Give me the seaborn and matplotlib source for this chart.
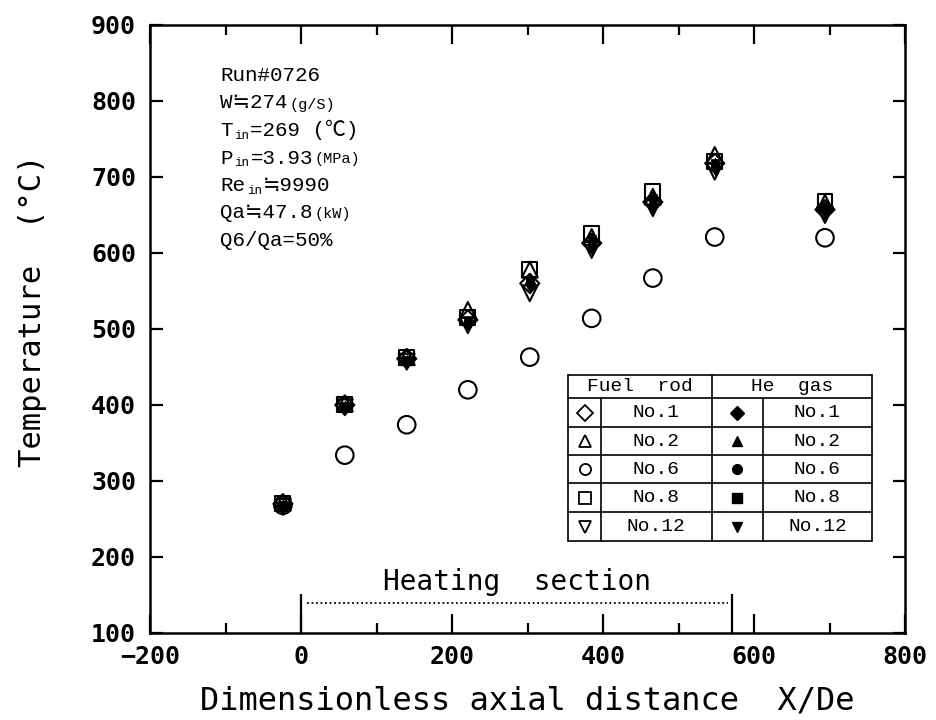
import numpy as np
import pandas as pd
import matplotlib
matplotlib.use("Agg")
import matplotlib.pyplot as plt
import seaborn as sns
from matplotlib.ticker import MultipleLocator

# ---- data ----
x_pos = [-24, 58, 140, 221, 303, 385, 466, 548, 694]

rod_labels = ["No.1", "No.2", "No.6", "No.8", "No.12"]
rod1 = [270, 400, 461, 512, 560, 613, 667, 718, 657]
rod2 = [272, 402, 463, 525, 578, 621, 674, 729, 666]
rod6 = [268, 334, 374, 420, 463, 514, 567, 621, 620]
rod8 = [270, 401, 462, 515, 578, 626, 681, 720, 668]
rod12 = [266, 397, 457, 505, 547, 604, 659, 707, 650]

gas1 = [268, 398, 458, 508, 560, 610, 662, 712, 655]
gas2 = [268, 400, 460, 512, 568, 615, 668, 720, 660]
gas6 = [266, 398, 458, 510, 562, 612, 664, 716, 656]
gas8 = [268, 399, 459, 511, 565, 618, 672, 718, 662]
gas12 = [265, 396, 456, 505, 552, 603, 658, 708, 650]

heat_start = 0
heat_end = 571

x_ticks = [-200, 0, 200, 400, 600, 800]
y_ticks = [100, 200, 300, 400, 500, 600, 700, 800, 900]

rods = [rod1, rod2, rod6, rod8, rod12]
gases = [gas1, gas2, gas6, gas8, gas12]
markers = ["D", "^", "o", "s", "v"]
rod_sizes = [95, 130, 160, 115, 130]
gas_sizes = [30, 38, 32, 30, 38]

sns.set_style("ticks")
plt.rcParams["font.family"] = ["DejaVu Sans Mono", "Noto Sans CJK JP", "DejaVu Sans"]
plt.rcParams.update({"text.color": "black", "axes.labelcolor": "black",
                     "axes.edgecolor": "black", "xtick.color": "black",
                     "ytick.color": "black"})

fig = plt.figure(figsize=(9.36, 7.2), dpi=100)
ax = fig.add_axes([150 / 936, 87 / 720, 755 / 936, 608 / 720])

# He gas (filled) markers
for vals, m, s in zip(gases, markers, gas_sizes):
    df = pd.DataFrame({"x": x_pos, "T": vals})
    sns.scatterplot(data=df, x="x", y="T", marker=m, s=s, color="black",
                    edgecolor="black", linewidth=0.5, ax=ax, zorder=3, legend=False)
# Fuel rod (open) markers
for vals, m, s in zip(rods, markers, rod_sizes):
    df = pd.DataFrame({"x": x_pos, "T": vals})
    sns.scatterplot(data=df, x="x", y="T", marker=m, s=s, color="none",
                    edgecolor="black", linewidth=1.5, ax=ax, zorder=4, legend=False)

ax.set_xlim(-200, 800)
ax.set_ylim(100, 900)
ax.set_xticks(x_ticks)
ax.set_yticks(y_ticks)
ax.xaxis.set_minor_locator(MultipleLocator(100))
for sp in ax.spines.values():
    sp.set_linewidth(1.8)
    sp.set_color("black")
    sp.set_visible(True)
ax.tick_params(axis="both", which="both", direction="in", top=True, right=True,
               width=1.6, colors="black")
ax.tick_params(axis="x", which="major", length=13.5, pad=9)
ax.tick_params(axis="x", which="minor", length=7)
ax.tick_params(axis="y", which="major", length=9, pad=10)
for lbl in ax.get_xticklabels() + ax.get_yticklabels():
    lbl.set_fontsize(18)
    lbl.set_fontweight("bold")

ax.set_xlabel("Dimensionless axial distance  X/De", fontsize=23, color="black")
ax.set_ylabel("Temperature  (°C)", fontsize=22, color="black")
ax.yaxis.set_label_coords(-0.137, 0.53)
ax.xaxis.set_label_coords(0.5, -0.087)

# Heating section
ax.vlines([heat_start, heat_end], 100, 151, color="black", lw=1.6)
ax.hlines(140, heat_start + 8, heat_end - 6, color="black", lw=1.3, linestyles=(0, (1, 1.5)))
ax.text((heat_start + heat_end) / 2, 167, "Heating  section", ha="center", va="center",
        fontsize=20, color="black")

# Run conditions (text with subscripts, chained)
fam = ["Liberation Mono", "Noto Sans CJK JP", "DejaVu Sans"]
lines = [
    [("Run#0726", 15, 0)],
    [("W≒274", 15, 0), ("(g/S)", 11, 0)],
    [("T", 15, 0), ("in", 9, -2), ("=269 (℃)", 15, 0)],
    [("P", 15, 0), ("in", 9, -2), ("=3.93", 15, 0), ("(MPa)", 11, 0)],
    [("Re", 15, 0), ("in", 9, -2), ("≒9990", 15, 0)],
    [("Qa≒47.8", 15, 0), ("(kW)", 11, 0)],
    [("Q6/Qa=50%", 15, 0)],
]
x0 = 0.093
for i, pieces in enumerate(lines):
    yb = 1 - (56 + 27.5 * i) / 608
    s, fs, dy = pieces[0]
    t = ax.text(x0, yb, s, transform=ax.transAxes, fontsize=fs, va="baseline",
                ha="left", family=fam, color="black")
    for s, fs, dy in pieces[1:]:
        t = ax.annotate(s, xy=(1, yb), xycoords=(t, ax.transAxes),
                        xytext=(1, dy), textcoords="offset points",
                        fontsize=fs, va="baseline", ha="left", family=fam, color="black")

# Legend table (data coordinates of the table frame)
tx = [354, 397, 544, 612, 756]
ty = [439.5, 409, 371, 334, 297, 259, 221]
lk = dict(color="black", lw=1.2, zorder=5)
for yy in ty:
    ax.plot([tx[0], tx[-1]], [yy, yy], **lk)
for xx in [tx[0], tx[2], tx[4]]:
    ax.plot([xx, xx], [ty[0], ty[-1]], **lk)
for xx in [tx[1], tx[3]]:
    ax.plot([xx, xx], [ty[1], ty[-1]], **lk)
tfam = ["Liberation Mono", "DejaVu Sans"]
ax.text((tx[0] + tx[2]) / 2, (ty[0] + ty[1]) / 2, "Fuel  rod", ha="center", va="center",
        fontsize=14, family=tfam, color="black")
ax.text((tx[2] + tx[4]) / 2, (ty[0] + ty[1]) / 2, "He  gas", ha="center", va="center",
        fontsize=14, family=tfam, color="black")
for r, (m, lab) in enumerate(zip(markers, rod_labels)):
    yc = (ty[r + 1] + ty[r + 2]) / 2
    ax.plot([(tx[0] + tx[1]) / 2], [yc], marker=m, ms=8, mfc="none", mec="black", mew=1.3,
            zorder=6)
    ax.plot([(tx[2] + tx[3]) / 2], [yc], marker=m, ms=7, mfc="black", mec="black", zorder=6)
    ax.text((tx[1] + tx[2]) / 2, yc, lab, ha="center", va="center", fontsize=14,
            family=tfam, color="black")
    ax.text((tx[3] + tx[4]) / 2, yc, lab, ha="center", va="center", fontsize=14,
            family=tfam, color="black")

fig.savefig("out.png", dpi=100)
